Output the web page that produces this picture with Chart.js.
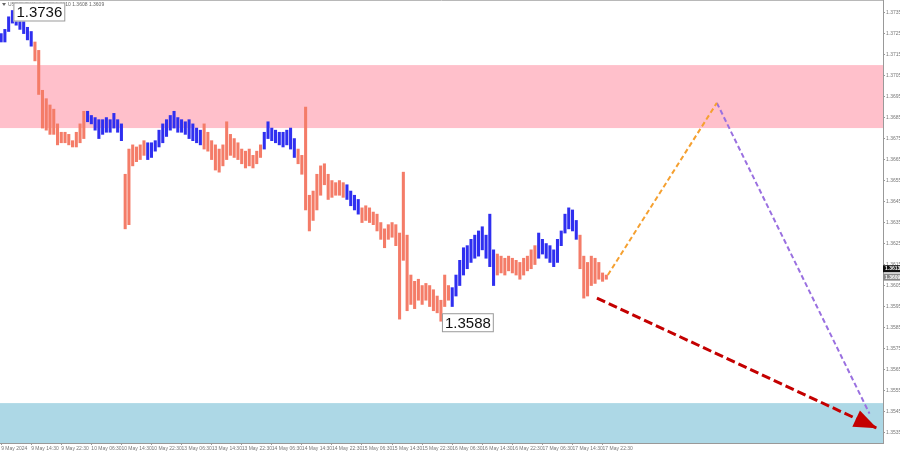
<!DOCTYPE html>
<html>
<head>
<meta charset="utf-8">
<title>USDCHF H1 wave forecast</title>
<script src="https://cdn.jsdelivr.net/npm/chart.js@4.4.1/dist/chart.umd.min.js"></script>
<style>
  html, body { margin: 0; padding: 0; background: #fff; }
  #wrap { width: 900px; height: 454px; }
</style>
</head>
<body>
<div id="wrap"><canvas id="waveChart" width="900" height="454"></canvas></div>
<script>
const symbolInfo = 'USDCHF,H1  1.3608 1.3610 1.3608 1.3609';

// one label every 8 bars (H1, weekend collapsed)
const timeLabels = [
    '9 May 2024', '9 May 14:30', '9 May 22:30', '10 May 06:30', '10 May 14:30', '10 May 22:30',
    '13 May 06:30', '13 May 14:30', '13 May 22:30', '14 May 06:30', '14 May 14:30', '14 May 22:30',
    '15 May 06:30', '15 May 14:30', '15 May 22:30', '16 May 06:30', '16 May 14:30', '16 May 22:30',
    '17 May 06:30', '17 May 14:30', '17 May 22:30'
];

const priceTicks = [
    1.3735, 1.3725, 1.3715, 1.3705, 1.3695, 1.3685, 1.3675, 1.3665, 1.3655, 1.3645, 1.3635,
    1.3625, 1.3615, 1.3605, 1.3595, 1.3585, 1.3575, 1.3565, 1.3555, 1.3545, 1.3535
];

const barHighs = [
    1.3725, 1.3727, 1.3733, 1.3736, 1.3735, 1.3733, 1.3731, 1.3728, 1.3726, 1.3721,
    1.3717, 1.3698, 1.3694, 1.3691, 1.3689, 1.3682, 1.3678, 1.3678, 1.3677, 1.3674,
    1.3678, 1.3682, 1.3688, 1.3688, 1.3686, 1.3685, 1.3684, 1.3684, 1.3685, 1.3684,
    1.3687, 1.3684, 1.3682, 1.3658, 1.3670, 1.3672, 1.3671, 1.3672, 1.3674, 1.3673,
    1.3673, 1.3674, 1.3679, 1.3682, 1.3684, 1.3686, 1.3688, 1.3685, 1.3684, 1.3683,
    1.3684, 1.3682, 1.3680, 1.3679, 1.3682, 1.3678, 1.3674, 1.3672, 1.3670, 1.3672,
    1.3683, 1.3677, 1.3675, 1.3673, 1.3670, 1.3669, 1.3670, 1.3667, 1.3669, 1.3672,
    1.3678, 1.3683, 1.3680, 1.3679, 1.3678, 1.3678, 1.3679, 1.3680, 1.3675, 1.3670,
    1.3667, 1.3690, 1.3648, 1.3650, 1.3658, 1.3662, 1.3663, 1.3658, 1.3655, 1.3654,
    1.3655, 1.3654, 1.3653, 1.3650, 1.3648, 1.3646, 1.3642, 1.3643, 1.3642, 1.3640,
    1.3639, 1.3635, 1.3632, 1.3634, 1.3635, 1.3634, 1.3630, 1.3659, 1.3629, 1.3610,
    1.3607, 1.3608, 1.3605, 1.3606, 1.3605, 1.3603, 1.3600, 1.3598, 1.3610, 1.3605,
    1.3604, 1.3610, 1.3617, 1.3623, 1.3624, 1.3627, 1.3629, 1.3631, 1.3633, 1.3629,
    1.3639, 1.3622, 1.3620, 1.3619, 1.3618, 1.3619, 1.3618, 1.3617, 1.3616, 1.3618,
    1.3619, 1.3622, 1.3624, 1.3630, 1.3627, 1.3625, 1.3624, 1.3622, 1.3627, 1.3631,
    1.3639, 1.3642, 1.3641, 1.3636, 1.3629, 1.3619, 1.3616, 1.3619, 1.3618, 1.3616,
    1.3611, 1.3610
];

const barLows = [
    1.3721, 1.3721, 1.3726, 1.3730, 1.3729, 1.3727, 1.3725, 1.3722, 1.3719, 1.3712,
    1.3696, 1.3680, 1.3679, 1.3677, 1.3677, 1.3672, 1.3673, 1.3673, 1.3672, 1.3671,
    1.3671, 1.3673, 1.3675, 1.3683, 1.3682, 1.3679, 1.3675, 1.3677, 1.3678, 1.3678,
    1.3680, 1.3678, 1.3674, 1.3632, 1.3634, 1.3662, 1.3664, 1.3665, 1.3667, 1.3665,
    1.3666, 1.3669, 1.3671, 1.3673, 1.3676, 1.3679, 1.3680, 1.3678, 1.3678, 1.3677,
    1.3675, 1.3674, 1.3673, 1.3672, 1.3670, 1.3669, 1.3665, 1.3660, 1.3659, 1.3662,
    1.3665, 1.3667, 1.3666, 1.3665, 1.3663, 1.3661, 1.3662, 1.3661, 1.3663, 1.3666,
    1.3670, 1.3675, 1.3674, 1.3673, 1.3672, 1.3671, 1.3672, 1.3670, 1.3666, 1.3663,
    1.3658, 1.3641, 1.3631, 1.3636, 1.3641, 1.3648, 1.3653, 1.3646, 1.3647, 1.3648,
    1.3648, 1.3647, 1.3646, 1.3643, 1.3641, 1.3639, 1.3635, 1.3636, 1.3635, 1.3634,
    1.3631, 1.3627, 1.3623, 1.3627, 1.3628, 1.3624, 1.3589, 1.3617, 1.3593, 1.3596,
    1.3594, 1.3598, 1.3596, 1.3598, 1.3595, 1.3593, 1.3592, 1.3588, 1.3595, 1.3598,
    1.3595, 1.3600, 1.3605, 1.3610, 1.3613, 1.3616, 1.3618, 1.3619, 1.3622, 1.3618,
    1.3614, 1.3605, 1.3610, 1.3611, 1.3610, 1.3612, 1.3611, 1.3610, 1.3608, 1.3610,
    1.3612, 1.3613, 1.3615, 1.3618, 1.3620, 1.3618, 1.3616, 1.3614, 1.3616, 1.3624,
    1.3630, 1.3632, 1.3631, 1.3627, 1.3613, 1.3599, 1.3600, 1.3605, 1.3606, 1.3608,
    1.3607, 1.3608
];

// bar index ranges of the rising wave legs (painted blue), the rest is salmon
const upLegs = [[0, 8], [23, 32], [39, 53], [70, 78], [92, 95], [120, 131], [143, 153]];

const sellZone = [1.3680, 1.3710];
const buyZone = [1.3530, 1.3549];

// forecast paths, x = bar number
const forecastUp = [{ x: 161.4, y: 1.3610 }, { x: 190.4, y: 1.3692 }];
const forecastDown = [{ x: 190.4, y: 1.3692 }, { x: 231.0, y: 1.3544 }];
const mainTarget = [{ x: 158.5, y: 1.3599 }, { x: 233.0, y: 1.3537 }];

const extremes = [{ index: 3, price: 1.3736 }, { index: 117, price: 1.3588 }];
const askBid = [1.3613, 1.3609];

const BLUE = '#2f2ff0';
const SALMON = '#f47c68';
const FONT = '"Liberation Sans", Arial, sans-serif';

function isUp(i) {
    return upLegs.some(leg => i >= leg[0] && i <= leg[1]);
}

const barData = barHighs.map((h, i) => ({ x: i, y: [barLows[i], h] }));
const barColors = barHighs.map((h, i) => isUp(i) ? BLUE : SALMON);

// zones behind the bars
const zonePlugin = {
    id: 'zones',
    beforeDatasetsDraw(chart) {
        const { ctx, chartArea, scales } = chart;
        const y = scales.y;
        ctx.save();
        ctx.fillStyle = '#ffc0cb';
        let top = y.getPixelForValue(sellZone[1]);
        let bot = y.getPixelForValue(sellZone[0]);
        ctx.fillRect(chartArea.left, top, chartArea.right - chartArea.left, bot - top);
        ctx.fillStyle = '#add8e6';
        top = y.getPixelForValue(buyZone[1]);
        bot = y.getPixelForValue(buyZone[0]);
        ctx.fillRect(chartArea.left, top, chartArea.right - chartArea.left, bot - top);
        ctx.restore();
    }
};

// arrow head, price labels, header text
const overlayPlugin = {
    id: 'overlay',
    afterDraw(chart) {
        const { ctx, chartArea, scales } = chart;
        const x = scales.x, y = scales.y;
        ctx.save();

        // top frame line
        ctx.strokeStyle = '#b8b8b8';
        ctx.lineWidth = 1;
        ctx.beginPath();
        ctx.moveTo(chartArea.left, 0.5);
        ctx.lineTo(chartArea.right, 0.5);
        ctx.stroke();

        // red arrow head
        const pts = chart.getDatasetMeta(0).data;
        const a = pts[0], b = pts[1];
        const ang = Math.atan2(b.y - a.y, b.x - a.x);
        const len = 23, half = 9;
        ctx.fillStyle = '#c40000';
        ctx.beginPath();
        ctx.moveTo(b.x, b.y);
        ctx.lineTo(b.x - len * Math.cos(ang) + half * Math.sin(ang), b.y - len * Math.sin(ang) - half * Math.cos(ang));
        ctx.lineTo(b.x - len * Math.cos(ang) - half * Math.sin(ang), b.y - len * Math.sin(ang) + half * Math.cos(ang));
        ctx.closePath();
        ctx.fill();

        // header
        ctx.fillStyle = '#666';
        ctx.beginPath();
        ctx.moveTo(2, 3); ctx.lineTo(6, 3); ctx.lineTo(4, 6); ctx.closePath();
        ctx.fill();
        ctx.font = '5px ' + FONT;
        ctx.textBaseline = 'middle';
        ctx.textAlign = 'left';
        ctx.fillText(symbolInfo, 8, 5);

        // extreme price boxes
        ctx.font = '15px ' + FONT;
        extremes.forEach(e => {
            const txt = e.price.toFixed(4);
            const px = x.getPixelForValue(e.index) + 1;
            const py = y.getPixelForValue(e.price) + 1.5;
            const w = ctx.measureText(txt).width + 6;
            const h = 19;
            ctx.fillStyle = '#ffffff';
            ctx.fillRect(px, py - h / 2, w, h);
            ctx.strokeStyle = '#9a9a9a';
            ctx.strokeRect(px + 0.5, py - h / 2 + 0.5, w - 1, h - 1);
            ctx.fillStyle = '#111';
            ctx.fillText(txt, px + 3, py + 1);
        });

        // ask / bid boxes on the price axis
        ctx.font = 'bold 5px ' + FONT;
        askBid.forEach((p, k) => {
            const py = y.getPixelForValue(p);
            ctx.fillStyle = k === 0 ? '#111' : '#8a8a8a';
            ctx.fillRect(chartArea.right, py - 3.5, 17, 7);
            ctx.fillStyle = '#fff';
            ctx.fillText(p.toFixed(4), chartArea.right + 2, py);
        });
        ctx.restore();
    }
};

const ctx = document.getElementById('waveChart').getContext('2d');
new Chart(ctx, {
    data: {
        datasets: [
            {
                type: 'line', data: mainTarget, borderColor: '#c40000', borderWidth: 3,
                borderDash: [9, 4], pointRadius: 0, fill: false
            },
            {
                type: 'line', data: forecastUp, borderColor: '#f5a030', borderWidth: 2,
                borderDash: [5, 3], pointRadius: 0, fill: false
            },
            {
                type: 'line', data: forecastDown, borderColor: '#9a70e0', borderWidth: 2,
                borderDash: [5, 3], pointRadius: 0, fill: false
            },
            {
                type: 'bar', data: barData, backgroundColor: barColors, borderWidth: 0,
                barThickness: 2.4
            }
        ]
    },
    options: {
        responsive: false,
        animation: false,
        layout: { padding: 0 },
        plugins: { legend: { display: false }, tooltip: { enabled: false } },
        scales: {
            x: {
                type: 'linear',
                offset: false,
                min: -0.3,
                max: 234.6,
                afterBuildTicks: s => { s.ticks = timeLabels.map((t, k) => ({ value: k * 8 })); },
                afterFit: s => { s.height = 11; s.paddingLeft = 0; s.paddingRight = 0; },
                ticks: {
                    autoSkip: false, maxRotation: 0, align: 'start', padding: 1,
                    font: { size: 5, family: FONT }, color: '#777',
                    callback: (v, i) => timeLabels[i]
                },
                grid: { offset: false, drawOnChartArea: false, tickLength: 2, color: '#999' },
                border: { color: '#999' }
            },
            y: {
                position: 'right',
                min: 1.3530,
                max: 1.3741,
                afterBuildTicks: s => { s.ticks = priceTicks.map(v => ({ value: v })); },
                afterFit: s => { s.width = 17; s.paddingTop = 0; s.paddingBottom = 0; },
                ticks: {
                    autoSkip: false, padding: 1,
                    font: { size: 5, family: FONT }, color: '#777',
                    callback: v => v.toFixed(4)
                },
                grid: { drawOnChartArea: false, tickLength: 2, color: '#999' },
                border: { color: '#999' }
            }
        }
    },
    plugins: [zonePlugin, overlayPlugin]
});
</script>
</body>
</html>
